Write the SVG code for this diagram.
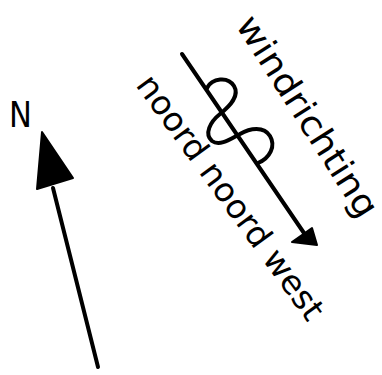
<svg xmlns="http://www.w3.org/2000/svg" width="382" height="375" viewBox="0 0 382 375">
<style>
.ln{stroke:#000;stroke-width:4;fill:none;stroke-linecap:round;stroke-linejoin:round}
.hd{fill:#000;stroke:#000;stroke-width:2;stroke-linejoin:round}
.tx{font-family:"DejaVu Sans","Liberation Sans",sans-serif;fill:#000}
</style>
<rect width="382" height="375" fill="#fff"/>
<g id="north">
<text class="tx" x="9" y="127" font-size="36" transform="translate(9,127) scale(0.85,1) translate(-9,-127)">N</text>
<polygon class="hd" points="42,132 37,189 73,178"/>
<line class="ln" x1="53" y1="188" x2="98" y2="367"/>
</g>
<g id="wind">
<line class="ln" x1="182" y1="54" x2="306" y2="236"/>
<polygon class="hd" points="292,242 312,228 317,245"/>
<path class="ln" d="M207,88 C212,78 228,76 234,86 C240,96 230,106 220,114 C210,122 204,134 212,141 C220,147 232,138 240,134 C250,128 264,126 270,136 C276,146 270,158 258,163"/>
<text class="tx" font-size="35" transform="translate(235,25) rotate(57.4)" textLength="232" lengthAdjust="spacingAndGlyphs">windrichting</text>
<text class="tx" font-size="33" transform="translate(135,85) rotate(54)" textLength="294" lengthAdjust="spacingAndGlyphs">noord noord west</text>
</g>
</svg>
